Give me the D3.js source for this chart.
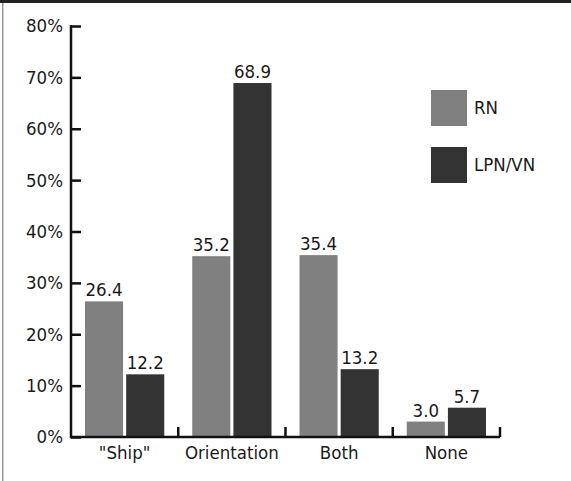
<!DOCTYPE html>
<html>
<head>
<meta charset="utf-8">
<script src="https://cdn.jsdelivr.net/npm/d3@7"></script>
<style>
  html, body { margin: 0; padding: 0; background: #fff; }
  svg { display: block; }
  text { font-family: "DejaVu Sans Condensed", "DejaVu Sans", sans-serif; font-stretch: condensed; fill: #1a1a1a; }
</style>
</head>
<body>
<script>
// Chart data
const categories = ['"Ship"', "Orientation", "Both", "None"];
const seriesNames = ["RN", "LPN/VN"];
const rnValues = [26.4, 35.2, 35.4, 3.0];
const lpnValues = [12.2, 68.9, 13.2, 5.7];
const yTicks = [0, 10, 20, 30, 40, 50, 60, 70, 80];
const seriesColors = ["#808080", "#333333"];

const W = 571, H = 481;
const margin = { left: 71, right: 72, top: 26, bottom: 44 };
const plotBottom = H - margin.bottom;
const FS = 18.5;

const svg = d3.select("body").append("svg").attr("width", W).attr("height", H);

// Frame: dark band along the top, thin grey rule down the left
svg.append("rect").attr("x", 0).attr("y", 0).attr("width", W).attr("height", 3).attr("fill", "#222");
svg.append("rect").attr("x", 2).attr("y", 3).attr("width", 1.5).attr("height", H - 3).attr("fill", "#9a9a9a");

const x0 = d3.scaleBand().domain(categories).range([margin.left, 500]).padding(0);
const x1 = d3.scaleBand().domain(seriesNames)
  .range([14, x0.bandwidth() - 14]).paddingInner(0.075);
const y = d3.scaleLinear().domain([0, 80]).range([plotBottom, margin.top]);

const rows = categories.map((c, i) => ({ cat: c, vals: [rnValues[i], lpnValues[i]] }));

// Bars
const groups = svg.append("g").selectAll("g").data(rows).join("g")
  .attr("transform", d => `translate(${x0(d.cat)},0)`);

groups.selectAll("rect").data(d => d.vals.map((v, k) => ({ v, s: seriesNames[k], k })))
  .join("rect")
  .attr("x", d => x1(d.s))
  .attr("width", x1.bandwidth())
  .attr("y", d => y(d.v))
  .attr("height", d => plotBottom - y(d.v))
  .attr("fill", d => seriesColors[d.k]);

// Value labels
groups.selectAll("text.val").data(d => d.vals.map((v, k) => ({ v, s: seriesNames[k] })))
  .join("text").attr("class", "val")
  .attr("x", d => x1(d.s) + x1.bandwidth() / 2)
  .attr("y", d => y(d.v) - 5)
  .attr("text-anchor", "middle")
  .attr("font-size", FS)
  .text(d => d.v.toFixed(1));

// Y axis
const yAxis = svg.append("g").attr("transform", `translate(${margin.left},0)`)
  .call(d3.axisRight(y).tickValues(yTicks).tickSize(10).tickFormat(d => d + "%"));
yAxis.select(".domain").remove();
yAxis.attr("font-family", null).attr("font-size", null);
yAxis.selectAll(".tick line").attr("stroke", "#111").attr("stroke-width", 2.5);
yAxis.selectAll(".tick text").attr("x", -8).attr("text-anchor", "end")
  .attr("font-size", FS).attr("fill", "#1a1a1a");
svg.append("line").attr("x1", margin.left).attr("x2", margin.left)
  .attr("y1", margin.top - 1).attr("y2", plotBottom + 1)
  .attr("stroke", "#111").attr("stroke-width", 2.5);

// X axis: baseline with ticks at band boundaries pointing up
const xg = svg.append("g");
xg.append("line").attr("x1", margin.left - 1).attr("x2", 500)
  .attr("y1", plotBottom).attr("y2", plotBottom)
  .attr("stroke", "#111").attr("stroke-width", 2.5);
xg.selectAll("line.xt").data(categories).join("line").attr("class", "xt")
  .attr("x1", d => x0(d) + x0.bandwidth()).attr("x2", d => x0(d) + x0.bandwidth())
  .attr("y1", plotBottom).attr("y2", plotBottom - 10)
  .attr("stroke", "#111").attr("stroke-width", 2.5);
xg.selectAll("text").data(categories).join("text")
  .attr("x", d => x0(d) + x0.bandwidth() / 2)
  .attr("y", plotBottom + 22)
  .attr("text-anchor", "middle")
  .attr("font-size", FS)
  .text(d => d);

// Legend
const legend = svg.append("g").selectAll("g").data(seriesNames).join("g")
  .attr("transform", (d, i) => `translate(431,${90 + i * 57})`);
legend.append("rect").attr("width", 36).attr("height", 36).attr("fill", (d, i) => seriesColors[i]);
legend.append("text").attr("x", 43).attr("y", 18).attr("dy", "0.35em")
  .attr("font-size", FS).text(d => d);
</script>
</body>
</html>
